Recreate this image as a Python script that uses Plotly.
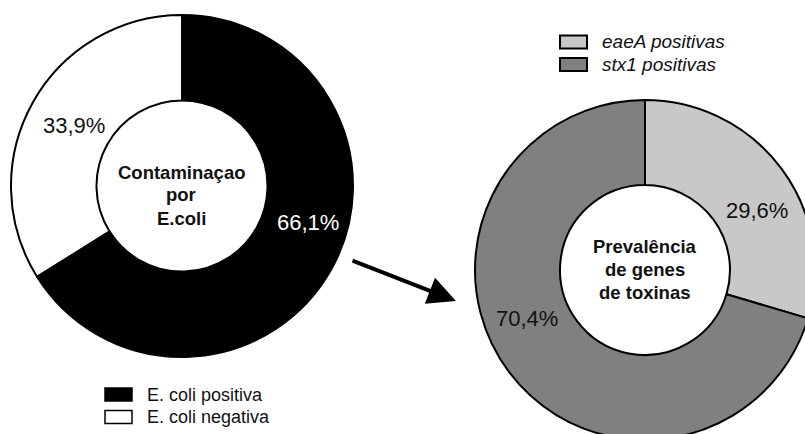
import plotly.graph_objects as go

# ---- data ----
ecoli_labels = ["E. coli positiva", "E. coli negativa"]
ecoli_values = [66.1, 33.9]
ecoli_colors = ["#000000", "#ffffff"]
ecoli_title = ["Contaminaçao", "por", "E.coli"]

genes_labels = ["eaeA positivas", "stx1 positivas"]
genes_values = [29.6, 70.4]
genes_colors = ["#c8c8c8", "#808080"]
genes_title = ["Prevalência", "de genes", "de toxinas"]

W, H = 820, 445
FONT = "Liberation Sans, Arial, sans-serif"
INK = "#111111"


def px(x):
    return x / W


def py(y):
    return 1 - y / H


def fmt(v):
    return f"{v:.1f}".replace(".", ",") + "%"


fig = go.Figure()

fig.add_trace(go.Pie(
    labels=ecoli_labels, values=ecoli_values, sort=False, direction="clockwise",
    rotation=0, hole=0.5, textinfo="none", hoverinfo="label+value", showlegend=False,
    marker=dict(colors=ecoli_colors, line=dict(color="#000000", width=2)),
    domain=dict(x=[px(11), px(353)], y=[py(357), py(15)]),
))

fig.add_trace(go.Pie(
    labels=genes_labels, values=genes_values, sort=False, direction="clockwise",
    rotation=0, hole=0.5, textinfo="none", hoverinfo="label+value", showlegend=False,
    marker=dict(colors=genes_colors, line=dict(color="#000000", width=2)),
    domain=dict(x=[px(475), px(815)], y=[py(440), py(100)]),
))

annotations = []
shapes = []

# percentage labels
label_pos = [
    (ecoli_values[0], 308, 222, "#ffffff"),
    (ecoli_values[1], 74, 125, INK),
    (genes_values[0], 757, 210, INK),
    (genes_values[1], 527, 318, INK),
]
for v, x, y, c in label_pos:
    annotations.append(dict(x=px(x), y=py(y), xref="paper", yref="paper", text=fmt(v),
                            xanchor="center", yanchor="middle", showarrow=False,
                            font=dict(family=FONT, size=22, color=c)))

# centre titles (one annotation per line for tight line spacing)
for lines, cx, cy in [(ecoli_title, 181, 195), (genes_title, 645, 269)]:
    n = len(lines)
    for i, t in enumerate(lines):
        yy = cy + (i - (n - 1) / 2) * 23
        annotations.append(dict(x=px(cx), y=py(yy), xref="paper", yref="paper",
                                text=f"<b>{t}</b>", xanchor="center", yanchor="middle",
                                showarrow=False, font=dict(family=FONT, size=18.5, color=INK)))

# legends (swatch + text)
legend_specs = [
    (ecoli_labels, ecoli_colors, 105, 394.5, 22.5, False, 18, 1.5),
    (genes_labels, genes_colors, 560, 42, 22.5, True, 19, 2),
]
for labels, colors, lx, ly, step, italic, fs, lw in legend_specs:
    for i, (lab, col) in enumerate(zip(labels, colors)):
        yc = ly + i * step
        shapes.append(dict(type="rect", xref="paper", yref="paper",
                           x0=px(lx), x1=px(lx + 27), y0=py(yc + 6.5), y1=py(yc - 6.5),
                           fillcolor=col, line=dict(color="#000000", width=lw)))
        txt = f"<i>{lab}</i>" if italic else lab
        annotations.append(dict(x=px(lx + 40), y=py(yc), xref="paper", yref="paper",
                                text=txt, xanchor="left", yanchor="middle", showarrow=False,
                                font=dict(family=FONT, size=fs, color=INK)))

# arrow
annotations.append(dict(x=px(456), y=py(301), xref="paper", yref="paper", text="",
                        showarrow=True, ax=-105, ay=-41, arrowhead=2, arrowsize=1.4,
                        arrowwidth=4, arrowcolor="#000000"))

fig.update_layout(
    width=W, height=H,
    margin=dict(l=0, r=0, t=0, b=0),
    paper_bgcolor="#ffffff", plot_bgcolor="#ffffff",
    font=dict(family=FONT, color=INK),
    annotations=annotations,
    shapes=shapes,
    showlegend=False,
)

fig.write_html("out.html", post_script=(
    "document.body.style.margin='0';document.body.style.overflow='hidden';"
    "document.documentElement.style.overflow='hidden';"))
